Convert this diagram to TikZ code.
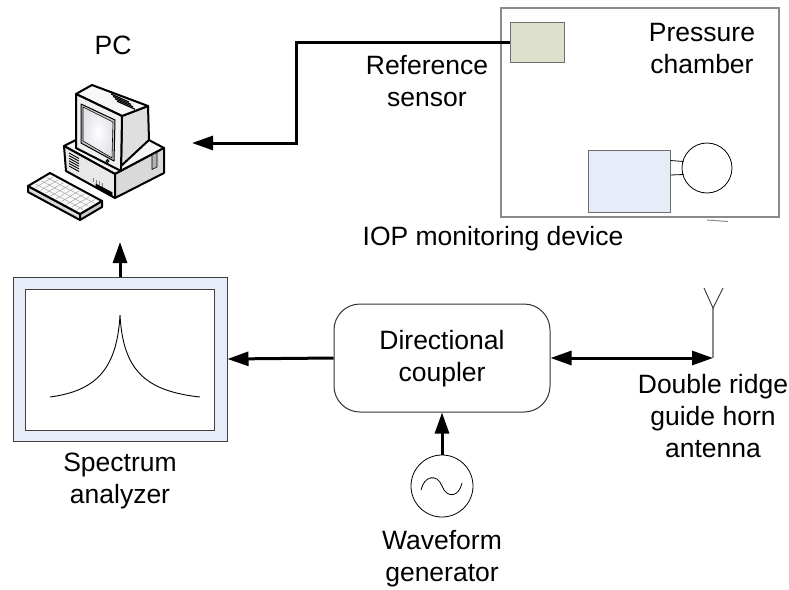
\documentclass[tikz,border=0pt]{standalone}
\usepackage{fontspec}
\setmainfont{Liberation Sans}
\usetikzlibrary{arrows.meta,calc}
\definecolor{boxblue}{HTML}{E6EDF8}
\definecolor{sensorgreen}{HTML}{DDE0CB}
\definecolor{edgegray}{HTML}{6E6E6E}
\definecolor{framegray}{HTML}{8A8A8A}
\begin{document}
\begin{tikzpicture}[x=1pt,y=-1pt,
  lbl/.style={font=\fontsize{26.5}{32}\selectfont, align=center, inner sep=0pt},
  arr/.style={line width=3pt,-{Triangle[length=21pt,width=14pt]}},
  darr/.style={line width=3pt,{Triangle[length=21pt,width=14pt]}-{Triangle[length=21pt,width=14pt]}},
  plainbox/.style={draw, rectangle, inner sep=0pt},
  pcline/.style={line width=2pt, line join=round, draw=black}]
\useasboundingbox (0,0) rectangle (789,589);

% ---------------- pressure chamber with sensor and IOP device
\node[plainbox, draw=framegray, line width=1.4pt, minimum width=278pt, minimum height=209pt] (chamber) at (640,112.5) {};
\node[plainbox, draw=edgegray, fill=sensorgreen, line width=1pt, minimum width=54pt, minimum height=40pt] (sensor) at (537,42) {};
\node[plainbox, draw=edgegray, fill=boxblue, line width=1pt, minimum width=82pt, minimum height=62pt] (iop) at (629,181) {};
\node[draw, circle, line width=0.8pt, minimum size=50pt, inner sep=0pt] (bulb) at (707,168) {};
\draw[line width=0.8pt] (iop.east |- 0,160.5) -- (683.5,161.5);
\draw[line width=0.8pt] (iop.east |- 0,175) -- (683.5,174.5);
\draw[framegray, line width=1pt] (707,220) -- (728,221.5);

\node[lbl] (chamberlbl) at (702,49) {Pressure\\chamber};
\node[lbl] (sensorlbl) at (427,81) {Reference\\sensor};
\node[lbl] (ioplbl) at (493,239) {IOP monitoring device};

% ---------------- PC
\node[lbl] (pclbl) at (113,45) {PC};
\begin{scope}[pcline]
  % desktop case
  \filldraw[fill=gray!8] (64,146) -- (113,121) -- (164,148) -- (115,174) -- cycle;
  \filldraw[fill=gray!18] (64,146) -- (115,174) -- (115,198) -- (66,171) -- cycle;
  \filldraw[fill=gray!30] (115,174) -- (164,148) -- (164,173) -- (115,198) -- cycle;
  % monitor
  \filldraw[fill=gray!25] (122,116) -- (148,106) -- (149,140) -- (121,166) -- cycle;
  \filldraw[fill=gray!6] (76,94) -- (92,85) -- (148,106) -- (122,116) -- cycle;
  \filldraw[fill=gray!12] (76,94) -- (122,116) -- (121,171) -- (76,148) -- cycle;
  \filldraw[fill=gray!40, line width=1pt] (81,104) -- (115,120) -- (114,161) -- (81,143) -- cycle;
  \shade[inner color=white, outer color=blue!12!gray!20] (83,107) -- (113,122) -- (112,158) -- (83,141) -- cycle;
  \draw[line width=0.6pt] (83,107) -- (113,122) -- (112,158) -- (83,141) -- cycle;
  \filldraw[fill=green!50!black, line width=0.6pt] (107.5,161) circle (1.6);
  % vents on monitor top
  \foreach \k in {0,1,2,3}
    \draw[line width=1.2pt] ({111+2*\k},{94+2.4*\k}) -- ({129+2*\k},{102+2.4*\k});
  % vents and slots on the case
  \foreach \k in {0,...,5}
    \draw[line width=0.9pt] (69,{153+2.6*\k}) -- (79,{158.5+2.6*\k});
  \foreach \k in {0,...,3}
    \draw[line width=0.6pt, gray] ({93+3*\k},{178+1.6*\k}) -- ({93+3*\k},{182+1.6*\k});
  \filldraw[fill=black, line width=0.6pt] (96,184) -- (112,192.5) -- (112,196) -- (96,187.5) -- cycle;
  \filldraw[fill=gray!60, line width=0.6pt] (152,155) -- (157,152.5) -- (157,167) -- (152,169.5) -- cycle;
  % keyboard
  \filldraw[fill=gray!30] (28,186) -- (80,214) -- (80,220) -- (28,192) -- cycle;
  \filldraw[fill=gray!40] (80,214) -- (102,201) -- (102,207) -- (80,220) -- cycle;
  \filldraw[fill=gray!5] (28,186) -- (50,173) -- (102,201) -- (80,214) -- cycle;
  \foreach \v in {0.25,0.5,0.75}
    \draw[line width=0.5pt, gray!70] ({28+52*0.05+22*\v},{186+28*0.05-13*\v}) -- ({28+52*0.95+22*\v},{186+28*0.95-13*\v});
  \foreach \u in {0.1,0.2,...,0.9}
    \draw[line width=0.5pt, gray!70] ({28+52*\u+22*0.1},{186+28*\u-13*0.1}) -- ({28+52*\u+22*0.9},{186+28*\u-13*0.9});
\end{scope}
\node[inner sep=0pt, minimum width=140pt, minimum height=135pt] (pc) at (95,150) {};
\coordinate (pcside) at (192,143);
\coordinate (pcbottom) at (120,242);

% ---------------- spectrum analyzer
\node[plainbox, draw=black!75, fill=boxblue, line width=1pt, minimum width=214pt, minimum height=164pt] (analyzer) at (120,359) {};
\node[plainbox, draw=black!75, fill=white, line width=1pt, minimum width=189pt, minimum height=141pt] (screen) at (120,359.5) {};
\draw[line width=0.9pt] (50,397) .. controls (95,391) and (117,370) .. (120,315)
                        .. controls (123,370) and (145,391) .. (200,397);
\node[lbl] (analyzerlbl) at (120,481) {Spectrum\\analyzer};

% ---------------- directional coupler, generator, antenna
\node[plainbox, draw=black!80, line width=1pt, rounded corners=26pt, minimum width=216pt, minimum height=108pt] (coupler) at (442,358) {};
\node[lbl] at (442,359) {Directional\\coupler};

\node[draw, circle, line width=0.8pt, minimum size=62pt, inner sep=0pt] (gen) at (442,486) {};
\draw[line width=0.8pt] (421,490) .. controls (424,476) and (437,473) .. (442,486)
                        .. controls (447,499) and (459,497) .. (462,483);
\node[lbl] (genlbl) at (442,559) {Waveform\\generator};

\coordinate (ant) at (713,358);
\coordinate (antfeed) at (713,308);
\draw[framegray, line width=2.5pt] (ant) -- (antfeed);
\draw[black!80, line width=0.9pt] (704,288) -- (antfeed) -- (723,288);
\node[lbl] (antlbl) at (713,416) {Double ridge\\guide horn\\antenna};

% ---------------- signal paths
\draw[arr] (sensor.west) -- ++(-213,0) |- (pcside);
\draw[arr] (analyzer.north) -- (pcbottom);
\draw[arr] (coupler.west) -- (analyzer.east);
\draw[darr] (coupler.east) -- (ant);
\draw[arr] (gen.north) -- (coupler.south);
\end{tikzpicture}
\end{document}
